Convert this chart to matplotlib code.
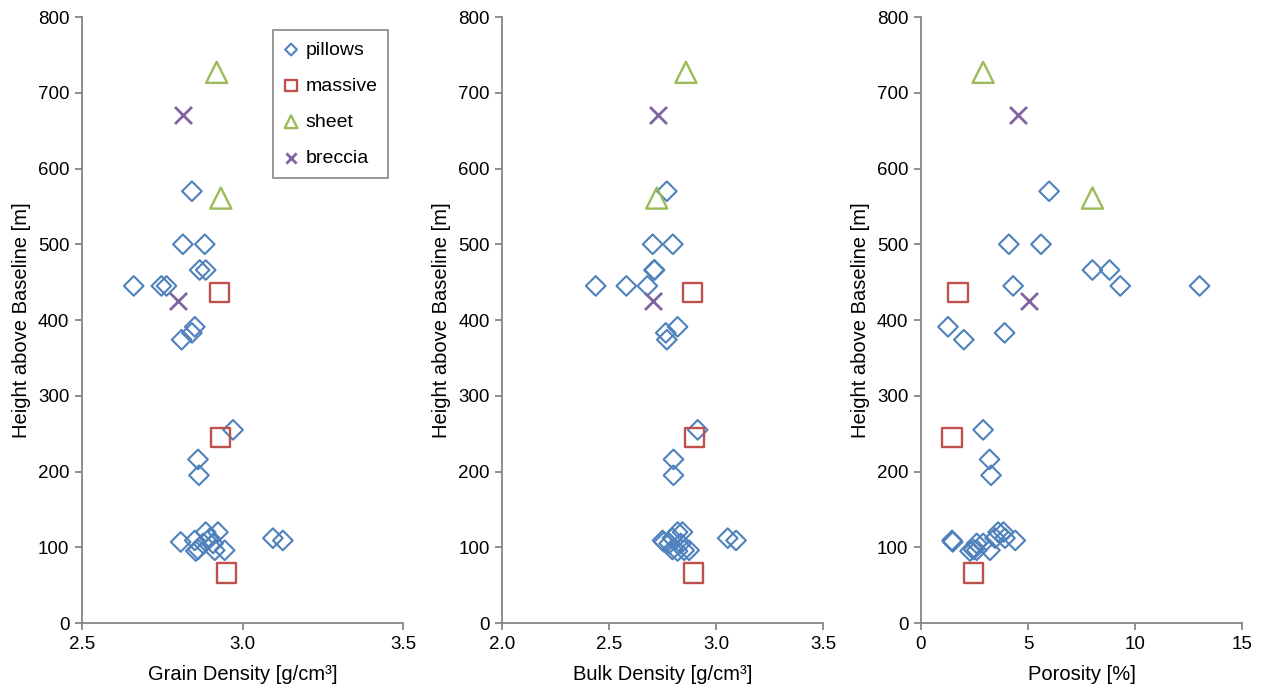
import numpy as np
import matplotlib
matplotlib.use("Agg")
import matplotlib.pyplot as plt

plt.rcParams['font.family'] = ['Liberation Sans', 'DejaVu Sans']
plt.rcParams['font.size'] = 13

# pillows: height [m], grain density, bulk density, porosity [%]
pil_h = [570, 500, 500, 466, 466, 445, 445, 445, 391, 383, 374, 255, 216, 195,
         107, 109, 120, 120, 112, 105, 97, 95, 96, 96, 105, 112, 109]
pil_grain = [2.842, 2.814, 2.882, 2.866, 2.885, 2.661, 2.747, 2.763, 2.851, 2.842, 2.81, 2.97, 2.861, 2.864,
             2.807, 2.851, 2.885, 2.923, 2.898, 2.908, 2.861, 2.854, 2.913, 2.944, 2.877, 3.094, 3.125]
pil_bulk = [2.769, 2.703, 2.797, 2.709, 2.712, 2.437, 2.580, 2.678, 2.819, 2.764, 2.769, 2.913, 2.80, 2.80,
            2.756, 2.749, 2.819, 2.842, 2.795, 2.834, 2.795, 2.819, 2.873, 2.85, 2.78, 3.053, 3.092]
pil_por = [5.98, 4.1, 5.6, 8.0, 8.8, 13.0, 9.3, 4.3, 1.26, 3.9, 2.0, 2.9, 3.2, 3.27,
           1.48, 1.45, 3.6, 3.85, 3.46, 2.9, 2.45, 2.29, 2.6, 3.22, 2.6, 3.92, 4.4]

# massive
mas_h = [436, 245, 66]
mas_grain = [2.929, 2.932, 2.95]
mas_bulk = [2.89, 2.90, 2.895]
mas_por = [1.73, 1.45, 2.45]

# sheet
she_h = [727, 561]
she_grain = [2.919, 2.932]
she_bulk = [2.858, 2.722]
she_por = [2.9, 8.0]

# breccia
bre_h = [671, 425]
bre_grain = [2.814, 2.80]
bre_bulk = [2.727, 2.703]
bre_por = [4.53, 5.05]

xlabels = ['Grain Density [g/cm³]', 'Bulk Density [g/cm³]', 'Porosity [%]']
xlims = [(2.5, 3.5), (2.0, 3.5), (0, 15)]
xticks = [[2.5, 3.0, 3.5], [2.0, 2.5, 3.0, 3.5], [0, 5, 10, 15]]
xfmt = ['{:.1f}', '{:.1f}', '{:.0f}']

c_blue = '#4F81BD'
c_red = '#C0504D'
c_green = '#9BBB59'
c_purple = '#8064A2'
gray = '#868686'

fig = plt.figure(figsize=(12.63, 6.92), dpi=100)
lefts = [0.0649, 0.3975, 0.7292]
width = 0.2545

xs = [(pil_grain, mas_grain, she_grain, bre_grain),
      (pil_bulk, mas_bulk, she_bulk, bre_bulk),
      (pil_por, mas_por, she_por, bre_por)]

for i in range(3):
    ax = fig.add_axes([lefts[i], 0.0997, width, 0.8757])
    px, mx, sx, bx = xs[i]
    ax.scatter(px, pil_h, marker='D', s=100, facecolors='none', edgecolors=c_blue, linewidths=1.5, label='pillows')
    ax.scatter(mx, mas_h, marker='s', s=190, facecolors='none', edgecolors=c_red, linewidths=1.7, label='massive')
    ax.scatter(sx, she_h, marker='^', s=230, facecolors='none', edgecolors=c_green, linewidths=1.7, label='sheet')
    ax.scatter(bx, bre_h, marker='x', s=150, color=c_purple, linewidths=2, label='breccia')

    ax.set_xlim(*xlims[i])
    ax.set_ylim(0, 800)
    ax.set_xticks(xticks[i])
    ax.set_xticklabels([xfmt[i].format(v) for v in xticks[i]])
    ax.set_yticks(np.arange(0, 801, 100))
    ax.set_xlabel(xlabels[i], labelpad=9, fontsize=14.5)
    ax.set_ylabel('Height above Baseline [m]', labelpad=5, fontsize=14.5)

    for s in ['top', 'right']:
        ax.spines[s].set_visible(False)
    for s in ['left', 'bottom']:
        ax.spines[s].set_color(gray)
        ax.spines[s].set_linewidth(1.3)
    ax.tick_params(direction='out', length=5, width=1.3, color=gray, labelsize=13.5, pad=4)

    if i == 0:
        leg = ax.legend(loc='upper left', bbox_to_anchor=(0.593, 0.978), borderaxespad=0,
                        markerscale=0.6, fancybox=False, edgecolor=gray, labelspacing=0.95,
                        handletextpad=0.35, borderpad=0.55, handlelength=0.8, fontsize=14,
                        framealpha=1)
        leg.get_frame().set_linewidth(1.2)

fig.savefig('out.png', dpi=100)
